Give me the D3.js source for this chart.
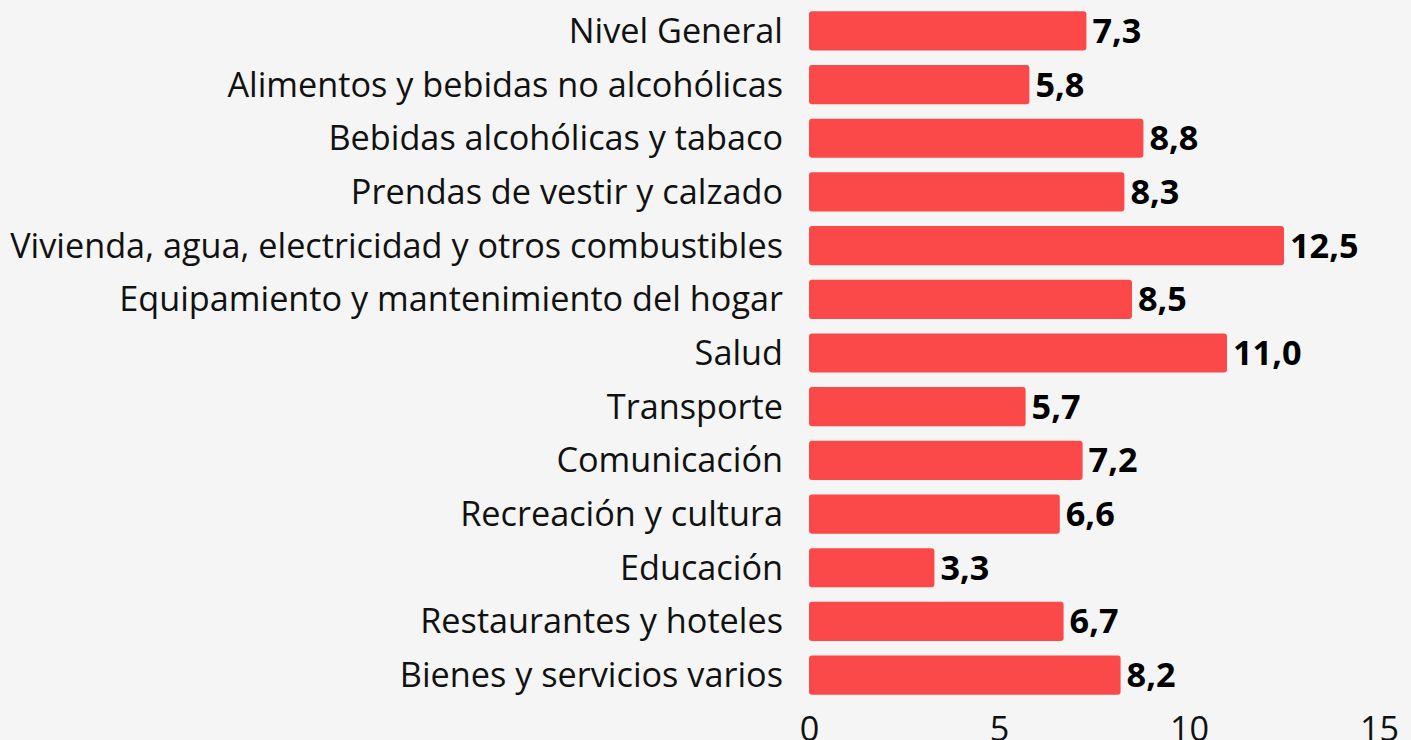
<!DOCTYPE html>
<html><head><meta charset="utf-8">
<script src="https://cdn.jsdelivr.net/npm/d3@7"></script>
<style>
html,body{margin:0;padding:0;background:#f5f5f5;overflow:hidden}
svg{display:block}
</style></head>
<body>
<svg id="c" width="1411" height="740"></svg>
<script>
const categories = ["Nivel General","Alimentos y bebidas no alcohólicas","Bebidas alcohólicas y tabaco","Prendas de vestir y calzado","Vivienda, agua, electricidad y otros combustibles","Equipamiento y mantenimiento del hogar","Salud","Transporte","Comunicación","Recreación y cultura","Educación","Restaurantes y hoteles","Bienes y servicios varios"];
const values = [7.3,5.8,8.8,8.3,12.5,8.5,11.0,5.7,7.2,6.6,3.3,6.7,8.2];
const ticks = [0,5,10,15];

const svg = d3.select("#c");
const FONT = "'Open Sans', sans-serif";
const x = d3.scaleLinear().domain([0,15]).range([809,1379]);
const y = d3.scaleBand().domain(categories).range([4,702]).paddingInner(0.27).paddingOuter(0.135);
const fmt = v => d3.format(".1f")(v).replace(".", ",");

svg.append("g").selectAll("rect").data(categories).join("rect")
  .attr("x", x(0)).attr("y", d => y(d))
  .attr("width", (d,i) => x(values[i]) - x(0))
  .attr("height", y.bandwidth())
  .attr("rx", 3).attr("fill", "#fb4848");

const labels = svg.append("g").selectAll("text").data(categories).join("text")
  .attr("x", 783).attr("y", d => y(d) + y.bandwidth()/2)
  .attr("dy", "0.35em").attr("text-anchor", "end")
  .attr("font-family", FONT).attr("font-size", 30).attr("fill", "#111")
  .text(d => d);

// fit label font size so longest label spans like reference
let maxW = 0;
labels.each(function(){ maxW = Math.max(maxW, this.getComputedTextLength()); });
const fs = 30 * 773 / maxW;
labels.attr("font-size", fs);

svg.append("g").selectAll("text").data(categories).join("text")
  .attr("x", (d,i) => x(values[i]) + 6).attr("y", d => y(d) + y.bandwidth()/2)
  .attr("dy", "0.35em")
  .attr("font-family", FONT).attr("font-weight", 700).attr("font-size", fs).attr("fill", "#000")
  .text((d,i) => fmt(values[i]));

const axis = d3.axisBottom(x).tickValues(ticks).tickSize(0).tickPadding(0).tickFormat(d3.format("d"));
const ag = svg.append("g").attr("transform", "translate(0,715)").call(axis);
ag.select(".domain").remove();
ag.selectAll("text").attr("font-family", FONT).attr("font-size", fs).attr("fill", "#111").attr("dy", "0.76em");
</script>
</body></html>
